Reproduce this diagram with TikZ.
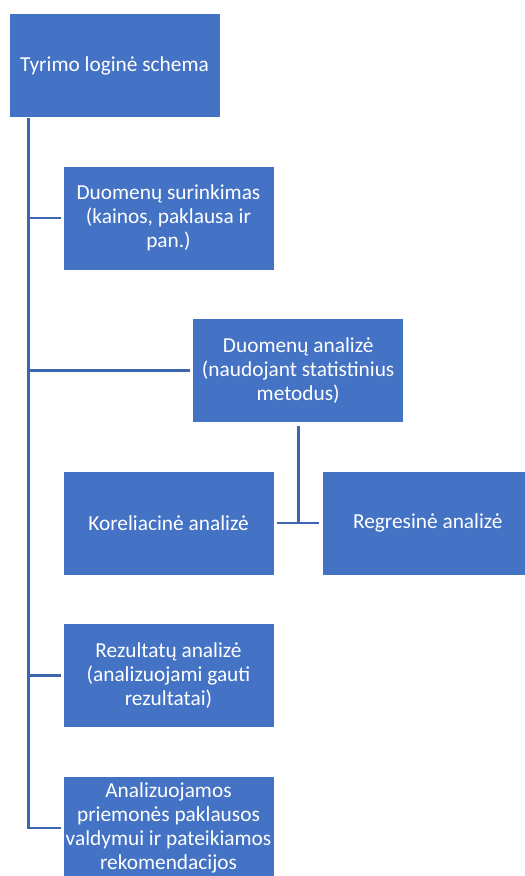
\documentclass[tikz,border=0pt]{standalone}
\usepackage{fontspec}
\setmainfont{Carlito}
\usepackage{xcolor}
\usepackage{tikz}
\usetikzlibrary{calc, positioning}
\definecolor{boxblue}{HTML}{4472C4}
\definecolor{lineblue}{HTML}{3D66B0}

\begin{document}
\begin{tikzpicture}[x=0.75pt, y=-0.75pt,
    box/.style={rectangle, fill=boxblue, draw=white, line width=0.6pt,
        minimum width=158.25pt, minimum height=78pt, inner sep=2pt,
        align=center, text=white, font=\fontsize{16}{18}\selectfont},
    conn/.style={draw=lineblue, line width=2.2pt}]
    \useasboundingbox (0,0) rectangle (525,876);
    % 1. Blokai
    \node[box] (root) at (114.5,65.6) {Tyrimo loginė schema};
    \node[box] (collect) at (168.5,218) {Duomenų surinkimas\\(kainos, paklausa ir\\pan.)};
    \node[box] (analysis) at (298.2,370.5) {Duomenų analizė\\(naudojant statistinius\\metodus)};
    \node[box] (korel) at (168.5,523) {Koreliacinė analizė};
    \node[box] (regres) at (427.8,523) {Regresinė analizė};
    \node[box] (results) at (168.5,675.5) {Rezultatų analizė\\(analizuojami gauti\\rezultatai)};
    \node[box] (final) at (168.5,828) {Analizuojamos\\priemonės paklausos\\valdymui ir pateikiamos\\rekomendacijos};
    
    % 2. Jungtys
    \coordinate (spine) at ([xshift=15pt]root.south west);
    \draw[conn] (spine) |- ([xshift=-1.5pt]final.west);
    \draw[conn] (spine |- collect.west) -- ([xshift=-1.5pt]collect.west);
    \draw[conn] (spine |- analysis.west) -- ([xshift=-1.5pt]analysis.west);
    \draw[conn] (spine |- results.west) -- ([xshift=-1.5pt]results.west);
    \draw[conn] ([yshift=-2pt]analysis.south) -- (analysis.south |- korel.east);
    \draw[conn] ([xshift=2pt]korel.east) -- ([xshift=-2pt]regres.west);
\end{tikzpicture}
\end{document}
